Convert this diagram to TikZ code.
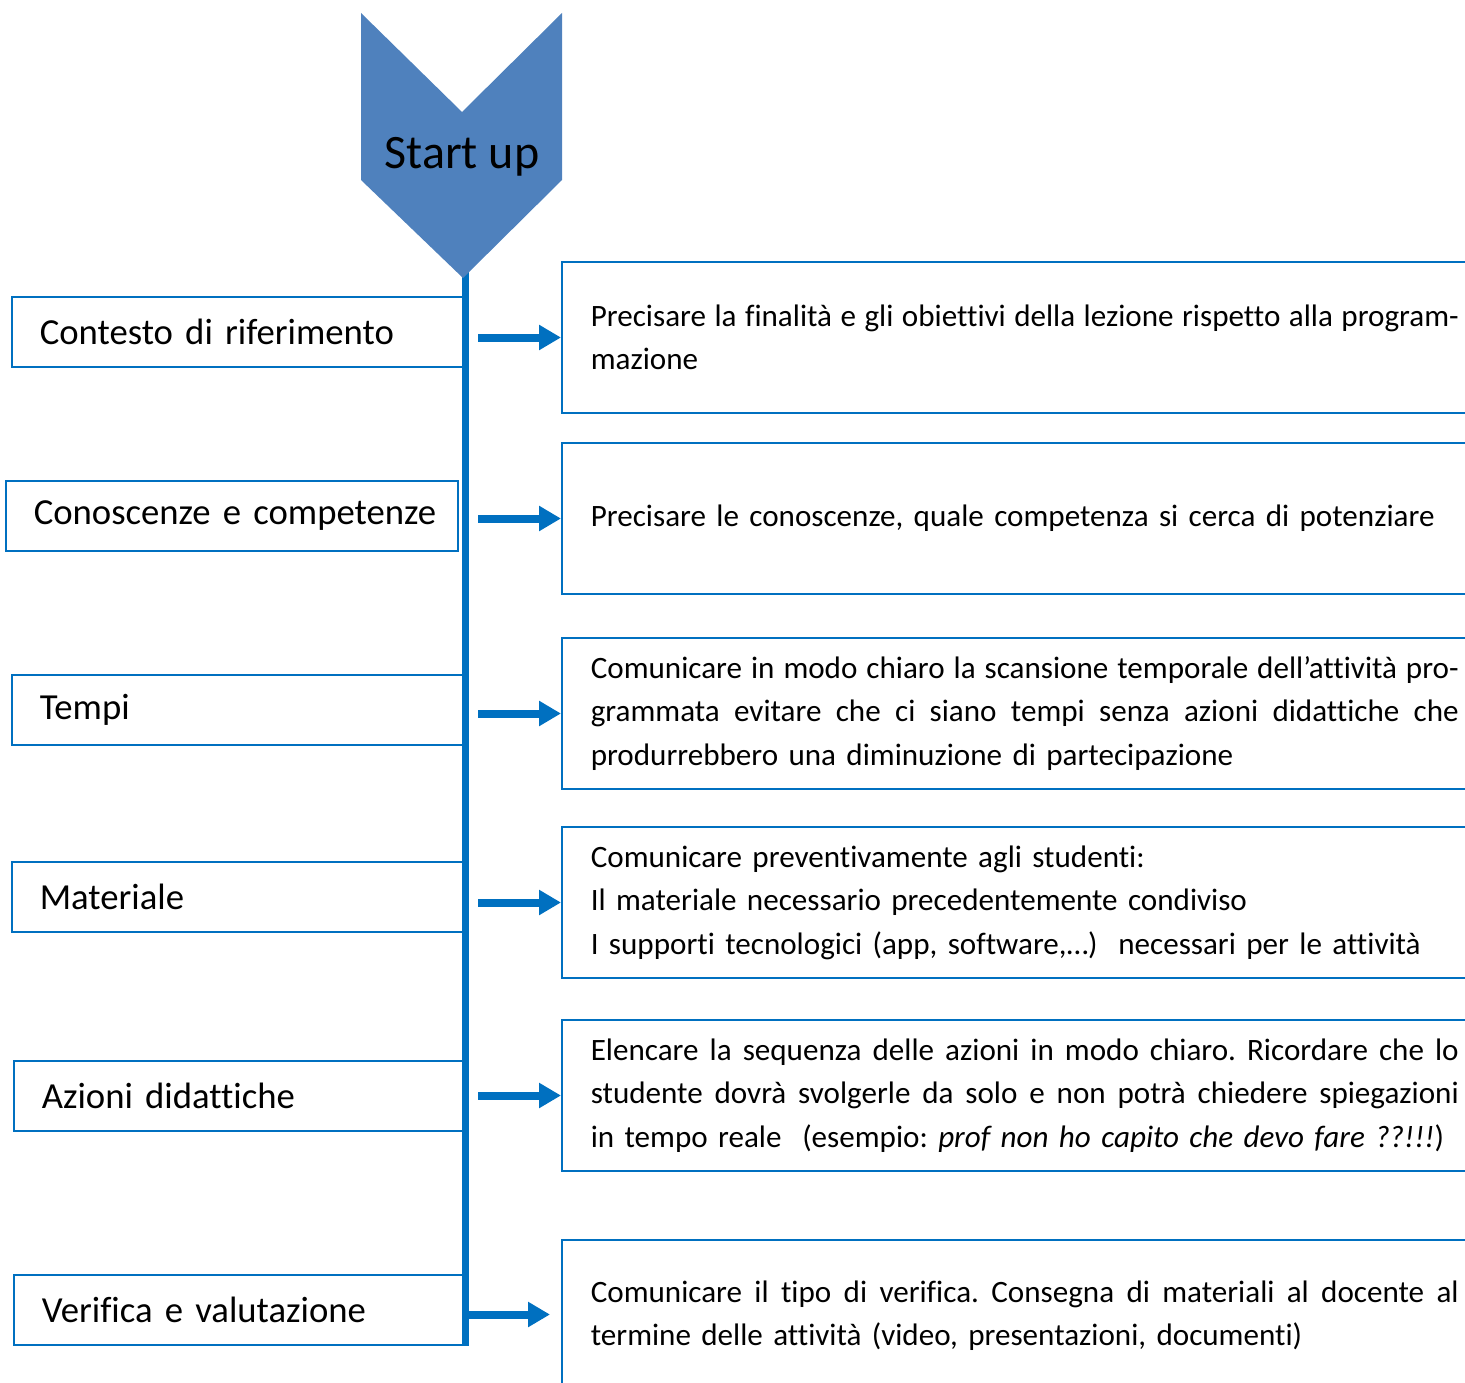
\documentclass[tikz,border=0pt]{standalone}
\usepackage{fontspec}
\setmainfont{Carlito}[Ligatures=NoCommon]
\usetikzlibrary{arrows.meta}
\definecolor{lineblue}{HTML}{0070C0}
\definecolor{chevblue}{HTML}{4F81BD}
\newcommand\jline[1]{\makebox[868pt][s]{\spaceskip=0.226em plus 1em minus 0.18em\relax #1}}
\frenchspacing
\begin{document}
\begin{tikzpicture}[x=1pt,y=-1pt,
  lbox/.style={draw=lineblue, line width=1.6pt, rectangle, minimum width=452pt, minimum height=70pt, inner xsep=28pt, inner ysep=0pt, text width=396pt, align=left, anchor=west, font=\fontsize{36.7}{44}\selectfont},
  rbox/.style={draw=lineblue, line width=1.6pt, rectangle, minimum height=151pt, inner xsep=29pt, inner ysep=0pt, text width=920pt, align=left, anchor=west, font=\fontsize{31.1}{43.5}\selectfont},
  arr/.style={draw=lineblue, line width=8pt, -{Triangle[length=22pt,width=24pt]}},
  spine/.style={draw=lineblue, line width=7pt},
  chev/.style={fill=chevblue, draw=none},
]
\useasboundingbox (0,0) rectangle (1465,1383);
\clip (0,0) rectangle (1465,1383);

% spine
\coordinate (top) at (465.5,270);
\coordinate (bottom) at (465.5,1346);
\draw[spine] (top) -- (bottom);

% chevron
\fill[chev] (361,13) -- (462,112) -- (562,13) -- (562,180) -- (463,278) -- (361,180) -- cycle;
\node[anchor=base, font=\fontsize{48}{50}\selectfont, inner sep=0pt] (start) at (462,169) {Start up};

% left boxes
\node[lbox] (l1) at (11,332) {\mbox{Contesto di riferimento}};
\node[lbox] (l2) at (5,516) {\mbox{Conoscenze e competenze}};
\node[lbox] (l3) at (11,710) {Tempi};
\node[lbox] (l4) at (11,897) {Materiale};
\node[lbox] (l5) at (13,1096) {Azioni didattiche};
\node[lbox] (l6) at (13,1310) {\mbox{Verifica e valutazione}};

% right boxes
\node[rbox] (r1) at (561,337.5) {\jline{Precisare la finalità e gli obiettivi della lezione rispetto alla program-}\\mazione};
\node[rbox] (r2) at (561,518.5) {Precisare le conoscenze, quale competenza si cerca di potenziare};
\node[rbox] (r3) at (561,713.5) {\jline{Comunicare in modo chiaro la scansione temporale dell’attività pro-}\\\jline{grammata evitare che ci siano tempi senza azioni didattiche che}\\produrrebbero una diminuzione di partecipazione};
\node[rbox] (r4) at (561,902.5) {Comunicare preventivamente agli studenti:\\Il materiale necessario precedentemente condiviso\\I supporti tecnologici (app, software,…)\ \ necessari per le attività};
\node[rbox] (r5) at (561,1095.5) {\jline{Elencare la sequenza delle azioni in modo chiaro. Ricordare che lo}\\\jline{studente dovrà svolgerle da solo e non potrà chiedere spiegazioni}\\in tempo reale\ \ (esempio: \textit{prof non ho capito che devo fare ??!!!})};
\node[rbox] (r6) at (561,1315.5) {\jline{Comunicare il tipo di verifica. Consegna di materiali al docente al}\\termine delle attività (video, presentazioni, documenti)};

% arrows
\draw[arr] ([xshift=-83pt]r1.west) -- (r1.west);
\draw[arr] ([xshift=-83pt]r2.west) -- (r2.west);
\draw[arr] ([xshift=-83pt]r3.west) -- (r3.west);
\draw[arr] ([xshift=-83pt]r4.west) -- (r4.west);
\draw[arr] ([xshift=-83pt]r5.west) -- (r5.west);
\draw[arr] ([xshift=-95pt,yshift=1pt]r6.west) -- ([xshift=-11pt,yshift=1pt]r6.west);
\end{tikzpicture}
\end{document}
